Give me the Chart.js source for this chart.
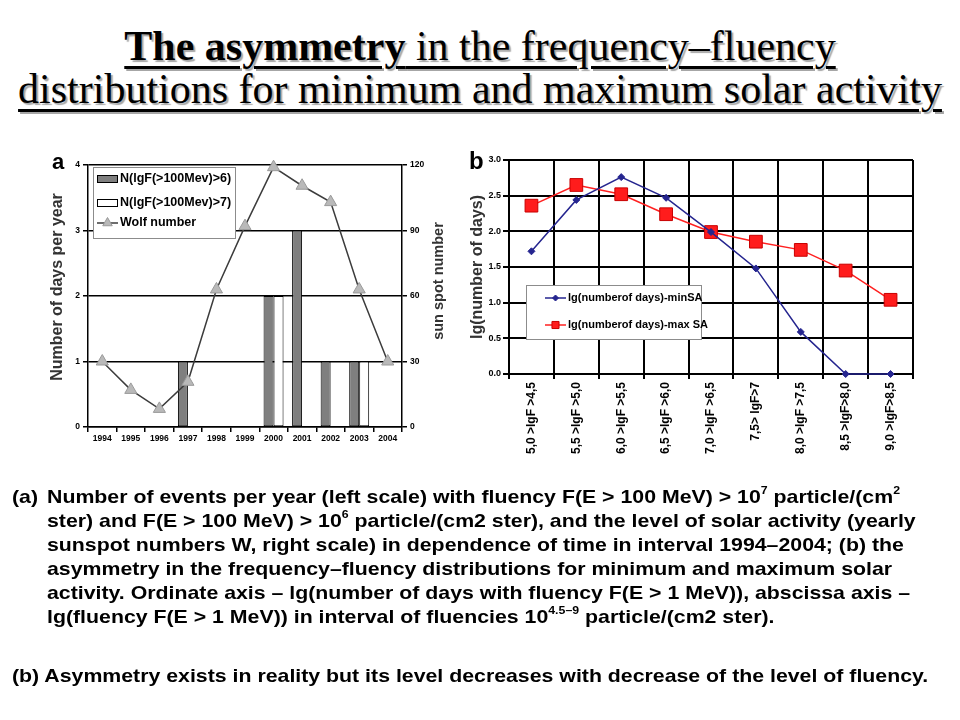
<!DOCTYPE html>
<html><head><meta charset="utf-8">
<script src="https://cdn.jsdelivr.net/npm/chart.js@4.4.1/dist/chart.umd.min.js"></script>
<style>
html,body{margin:0;padding:0;background:#fff;}
body{width:960px;height:720px;position:relative;overflow:hidden;font-family:"Liberation Sans",Arial,sans-serif;color:#000;}
.title{position:absolute;left:0;width:960px;text-align:center;font-family:"Liberation Serif","Times New Roman",serif;font-size:42px;line-height:48px;text-decoration:underline;text-decoration-thickness:2.5px;text-underline-offset:6px;text-shadow:2px 2px 1px rgba(0,0,0,0.35);white-space:nowrap;}
#t1{top:22px}
#t2{top:65px}
.panel{position:absolute;font-weight:bold;line-height:24px;}
.wrap{position:absolute;}
.row{position:absolute;height:24px;line-height:24px;font-size:19px;font-weight:bold;white-space:nowrap;transform:scaleX(1.121);transform-origin:0 50%;}
.row sup{font-size:11px;line-height:0;position:relative;top:-2px;vertical-align:super;}
</style>
</head><body>
<div class="title" id="t1"><b>The asymmetry</b> in the frequency–fluency</div>
<div class="title" id="t2">distributions for minimum and maximum solar activity</div>

<div class="wrap" style="left:40px;top:145px;width:430px;height:310px"><canvas id="ca" width="430" height="310"></canvas></div>
<div class="wrap" style="left:460px;top:140px;width:480px;height:335px"><canvas id="cb" width="480" height="335"></canvas></div>
<div class="panel" style="left:52px;top:150px;font-size:22px">a</div>
<div class="panel" style="left:469px;top:149px;font-size:24px">b</div>

<div class="row" style="left:12px;top:485px">(a)</div>
<div class="row" style="left:47px;top:485px">Number of events per year (left scale) with fluency F(E &gt; 100 MeV) &gt; 10<sup>7</sup> particle/(cm<sup>2</sup></div>
<div class="row" style="left:47px;top:509px">ster) and F(E &gt; 100 MeV) &gt; 10<sup>6</sup> particle/(cm2 ster), and the level of solar activity (yearly</div>
<div class="row" style="left:47px;top:533px">sunspot numbers W, right scale) in dependence of time in interval 1994–2004; (b) the</div>
<div class="row" style="left:47px;top:557px">asymmetry in the frequency–fluency distributions for minimum and maximum solar</div>
<div class="row" style="left:47px;top:581px">activity. Ordinate axis – lg(number of days with fluency F(E &gt; 1 MeV)), abscissa axis –</div>
<div class="row" style="left:47px;top:605px">lg(fluency F(E &gt; 1 MeV)) in interval of fluencies 10<sup>4.5–9</sup> particle/(cm2 ster).</div>
<div class="row" style="left:12px;top:664px">(b) Asymmetry exists in reality but its level decreases with decrease of the level of fluency.</div>

<script>
// ---------- data: panel (a) ----------
const years = ['1994','1995','1996','1997','1998','1999','2000','2001','2002','2003','2004'];
const daysFluencyGt6 = [0,0,0,1,0,0,2,3,1,1,0];
const daysFluencyGt7 = [0,0,0,0,0,0,2,0,0,1,0];
const wolfNumber = [30,17,8.3,20.7,63,92,119,110.5,103,63,30];
const leftTicksA = ['0','1','2','3','4'];
const rightTicksA = ['0','30','60','90','120'];
// ---------- data: panel (b) ----------
const fluencyBins = ['5,0 >lgF >4,5','5,5 >lgF >5,0','6,0 >lgF >5,5','6,5 >lgF >6,0','7,0 >lgF >6,5','7,5> lgF>7','8,0 >lgF >7,5','8,5 >lgF>8,0','9,0 >lgF>8,5'];
const lgDaysMinSA = [1.72,2.44,2.76,2.47,1.99,1.48,0.59,0,0];
const lgDaysMaxSA = [2.36,2.65,2.52,2.24,1.99,1.855,1.74,1.45,1.04];
const yTicksB = ['0.0','0.5','1.0','1.5','2.0','2.5','3.0'];

function marker(ctx, style, x, y, r){
  ctx.beginPath();
  if(style==='triangle'){
    ctx.moveTo(x, y - r);
    ctx.lineTo(x + r*Math.sin(2*Math.PI/3), y - r*Math.cos(2*Math.PI/3));
    ctx.lineTo(x + r*Math.sin(4*Math.PI/3), y - r*Math.cos(4*Math.PI/3));
  } else if(style==='rectRot'){
    ctx.moveTo(x, y - r); ctx.lineTo(x + r, y); ctx.lineTo(x, y + r); ctx.lineTo(x - r, y);
  } else {
    const s = r*Math.SQRT1_2; ctx.rect(x - s, y - s, 2*s, 2*s);
  }
  ctx.closePath(); ctx.fill(); ctx.stroke();
}

const boxLegend = {
  id:'boxLegend',
  afterDraw(chart, args, o){
    const ctx = chart.ctx, ca = chart.chartArea;
    const x = ca.left + o.x, y = ca.top + o.y;
    ctx.save();
    ctx.fillStyle = '#fff'; ctx.strokeStyle = o.border; ctx.lineWidth = 1;
    ctx.fillRect(x, y, o.w, o.h); ctx.strokeRect(x + 0.5, y + 0.5, o.w, o.h);
    ctx.font = o.font; ctx.textBaseline = 'middle'; ctx.textAlign = 'left';
    chart.data.datasets.forEach((ds, i) => {
      const cy = y + o.rows[i], sx = x + o.swatchX;
      const type = ds.type || chart.config.type;
      if(type === 'bar'){
        ctx.fillStyle = ds.backgroundColor; ctx.strokeStyle = ds.borderColor; ctx.lineWidth = 1;
        ctx.fillRect(sx, cy - o.barH/2, o.swatchW, o.barH);
        ctx.strokeRect(sx + 0.5, cy - o.barH/2 + 0.5, o.swatchW - 1, o.barH - 1);
      } else {
        ctx.strokeStyle = ds.borderColor; ctx.lineWidth = ds.borderWidth;
        ctx.beginPath(); ctx.moveTo(sx, cy); ctx.lineTo(sx + o.swatchW, cy); ctx.stroke();
        ctx.fillStyle = ds.pointBackgroundColor; ctx.strokeStyle = ds.pointBorderColor; ctx.lineWidth = 1;
        marker(ctx, ds.pointStyle, sx + o.swatchW/2, cy, o.markerR[i]);
      }
      ctx.fillStyle = '#000';
      ctx.fillText(ds.label, x + o.textX, cy);
    });
    ctx.restore();
  }
};

// vertical axis titles reading bottom-to-top, placed relative to their scale
const axisTitles = {
  id:'axisTitles',
  afterDraw(chart, args, o){
    const ctx = chart.ctx;
    (o.items || []).forEach(t => {
      const s = chart.scales[t.scaleId];
      const x = t.side === 'right' ? s.right - t.offset : s.left + t.offset;
      ctx.save();
      ctx.translate(x, (s.top + s.bottom)/2 + t.dy);
      ctx.rotate(-Math.PI/2);
      ctx.font = t.font; ctx.fillStyle = t.color; ctx.textAlign = 'center'; ctx.textBaseline = 'middle';
      ctx.fillText(t.text, 0, 0);
      ctx.restore();
    });
  }
};

Chart.defaults.font.family = '"Liberation Sans", Arial, sans-serif';
Chart.defaults.color = '#000';

new Chart(document.getElementById('ca'), {
  type:'bar',
  data:{
    labels: years,
    datasets:[
      {type:'bar', label:'N(lgF(>100Mev)>6)', data: daysFluencyGt6, yAxisID:'y', backgroundColor:'#7f7f7f', borderColor:'#000', borderWidth:1, borderSkipped:false, categoryPercentage:0.7, barPercentage:1, order:2},
      {type:'bar', label:'N(lgF(>100Mev)>7)', data: daysFluencyGt7, yAxisID:'y', backgroundColor:'#ffffff', borderColor:'#000', borderWidth:1, borderSkipped:false, categoryPercentage:0.7, barPercentage:1, order:2},
      {type:'line', label:'Wolf number', data: wolfNumber, yAxisID:'y1', borderColor:'#3c3c3c', borderWidth:1.5, pointStyle:'triangle', pointRadius:7, pointBackgroundColor:'#b9b9b9', pointBorderColor:'#9a9a9a', pointBorderWidth:1, clip:false, order:1, tension:0}
    ]
  },
  options:{
    responsive:false, animation:false, events:[],
    layout:{padding:{top:20,left:0,right:0,bottom:0}},
    plugins:{
      legend:{display:false}, tooltip:{enabled:false},
      boxLegend:{x:5, y:2, w:142, h:71, border:'#8c8c8c', font:'bold 12.5px "Liberation Sans", Arial, sans-serif', rows:[12,36,56], swatchX:4, swatchW:21, barH:8, textX:27, markerR:[0,0,5.5]},
      axisTitles:{items:[
        {scaleId:'y', side:'left', text:'Number of days per year', offset:18, dy:-9, font:'bold 16px "Liberation Sans", Arial, sans-serif', color:'#333'},
        {scaleId:'y1', side:'right', text:'sun spot number', offset:31, dy:-15, font:'bold 14.5px "Liberation Sans", Arial, sans-serif', color:'#333'}
      ]}
    },
    scales:{
      x:{
        offset:true,
        grid:{offset:true, drawOnChartArea:false, drawTicks:true, tickLength:5, color:'#000', lineWidth:1.5},
        border:{display:true, color:'#000', width:1.5},
        ticks:{font:{size:8.5, weight:'bold'}, padding:2, maxRotation:0, autoSkip:false},
        afterFit:(s)=>{ s.height = 28; }
      },
      y:{
        position:'left', min:0, max:4,
        grid:{color:'#000', lineWidth:1.5, drawTicks:true, tickLength:5},
        border:{display:true, color:'#000', width:1.5},
        ticks:{stepSize:1, font:{size:8.5, weight:'bold'}, padding:3, callback:(v,i)=>leftTicksA[i]},
        afterFit:(s)=>{ s.width = 48; }
      },
      y1:{
        position:'right', min:0, max:120,
        grid:{drawOnChartArea:false, drawTicks:true, tickLength:5, color:'#000', lineWidth:1.5},
        border:{display:true, color:'#000', width:1.5},
        ticks:{stepSize:30, font:{size:8.5, weight:'bold'}, padding:3, callback:(v,i)=>rightTicksA[i]},
        afterFit:(s)=>{ s.width = 68; }
      }
    }
  },
  plugins:[boxLegend, axisTitles]
});

new Chart(document.getElementById('cb'), {
  type:'line',
  data:{
    labels: fluencyBins,
    datasets:[
      {label:'lg(numberof days)-minSA', data: lgDaysMinSA, borderColor:'#25258f', backgroundColor:'#25258f', borderWidth:1.5, pointStyle:'rectRot', pointRadius:3.5, pointBackgroundColor:'#25258f', pointBorderColor:'#25258f', pointBorderWidth:1, clip:false, tension:0},
      {label:'lg(numberof days)-max SA', data: lgDaysMaxSA, borderColor:'#ff2020', backgroundColor:'#ff2020', borderWidth:1.5, pointStyle:'rect', pointRadius:9, pointBackgroundColor:'#ff1c1c', pointBorderColor:'#c80000', pointBorderWidth:1, clip:false, tension:0}
    ]
  },
  options:{
    responsive:false, animation:false, events:[],
    layout:{padding:{top:20,left:0,right:27,bottom:0}},
    plugins:{
      legend:{display:false}, tooltip:{enabled:false},
      boxLegend:{x:17, y:125, w:175, h:54, border:'#8c8c8c', font:'bold 11px "Liberation Sans", Arial, sans-serif', rows:[13,40], swatchX:19, swatchW:21, barH:8, textX:42, markerR:[3,5]},
      axisTitles:{items:[
        {scaleId:'y', side:'left', text:'lg(number of days)', offset:18, dy:0, font:'bold 16px "Liberation Sans", Arial, sans-serif', color:'#333'}
      ]}
    },
    scales:{
      x:{
        offset:true,
        grid:{offset:true, color:'#000', lineWidth:2, drawTicks:true, tickLength:5},
        border:{display:true, color:'#000', width:2},
        ticks:{font:{size:12, weight:'bold'}, minRotation:90, maxRotation:90, autoSkip:false, padding:3},
        afterFit:(s)=>{ s.height = 101; }
      },
      y:{
        min:0, max:3,
        grid:{color:'#000', lineWidth:2, drawTicks:true, tickLength:6},
        border:{display:true, color:'#000', width:2},
        ticks:{stepSize:0.5, font:{size:9, weight:'bold'}, padding:2, callback:(v,i)=>yTicksB[i]},
        afterFit:(s)=>{ s.width = 49; }
      }
    }
  },
  plugins:[boxLegend, axisTitles]
});
</script>
</body></html>
